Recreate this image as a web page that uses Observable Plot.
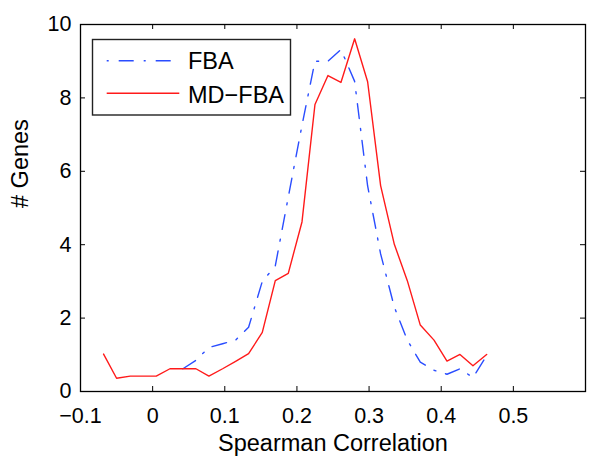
<!DOCTYPE html>
<html><head><meta charset="utf-8">
<script src="https://cdn.jsdelivr.net/npm/d3@7"></script>
<script src="https://cdn.jsdelivr.net/npm/@observablehq/plot@0.6"></script>
<style>
body{margin:0;background:#fff}
#chart{position:relative;width:600px;height:471px}
</style>
</head><body><div id="chart"></div>
<script>
// Bin centers (Spearman correlation)
const binCenters = [-0.068, -0.050, -0.031, -0.013, 0.005, 0.024, 0.042, 0.060, 0.078, 0.097,
  0.115, 0.133, 0.152, 0.170, 0.188, 0.207, 0.225, 0.243, 0.261, 0.280,
  0.298, 0.316, 0.335, 0.353, 0.371, 0.390, 0.408, 0.426, 0.444, 0.463];
// MD-FBA counts
const mdfbaValues = [1.02, 0.36, 0.42, 0.42, 0.42, 0.62, 0.62, 0.62, 0.42, 0.62,
  0.82, 1.03, 1.61, 3.02, 3.22, 4.62, 7.82, 8.61, 8.42, 9.61,
  8.44, 5.61, 4.01, 3.02, 1.81, 1.40, 0.83, 1.01, 0.70, 1.01];
// FBA counts (null = not visible / under MD-FBA)
const fbaValues = [null, null, null, null, null, null, 0.62, 0.85, 1.2, 1.3,
  1.4, 1.75, 3.0, 3.42, 5.3, 7.25, 9.0, 9.0, 9.32, 8.45,
  5.6, 3.75, 2.3, 1.4, 0.8, 0.58, 0.47, 0.62, 0.38, 0.98];
const seriesNames = ["FBA", "MD\u2212FBA"];
const xTicks = [-0.1, 0, 0.1, 0.2, 0.3, 0.4, 0.5];
const xTickLabels = ["\u22120.1", "0", "0.1", "0.2", "0.3", "0.4", "0.5"];
const yTicks = [0, 2, 4, 6, 8, 10];
const yTickLabels = ["0", "2", "4", "6", "8", "10"];
const xLabel = "Spearman Correlation";
const yLabel = "# Genes";

const blue = "#2a4dff", red = "#ff1a1a";
const dash = "15,10,2,10";
const W = 600, H = 471, mL = 80, mR = 15, mT = 24, mB = 80;
const pw = W - mL - mR, ph = H - mT - mB;
const font = '"Liberation Sans", Arial, Helvetica, sans-serif';

const mdRows = binCenters.map((x, i) => ({x, y: mdfbaValues[i]}));
const fbaRows = binCenters.map((x, i) => ({x, y: fbaValues[i]})).filter(d => d.y != null);

const chart = Plot.plot({
  width: W, height: H,
  marginLeft: mL, marginRight: mR, marginTop: mT, marginBottom: mB,
  style: {fontFamily: font, fontSize: "21px", color: "#000", background: "#fff"},
  x: {domain: [-0.1, 0.6], label: null},
  y: {domain: [0, 10], label: null},
  marks: [
    Plot.axisX({ticks: xTicks, tickSize: 0, tickPadding: 16, label: null,
      tickFormat: d => xTickLabels[xTicks.indexOf(d)], fontSize: 21.5}),
    Plot.axisY({ticks: yTicks, tickSize: 0, tickPadding: 9, label: null,
      tickFormat: d => yTickLabels[yTicks.indexOf(d)], fontSize: 21.5}),
    Plot.tickX(xTicks, {x: d => d, insetTop: ph - 5, stroke: "#000", strokeWidth: 1}),
    Plot.tickX(xTicks, {x: d => d, insetBottom: ph - 5, stroke: "#000", strokeWidth: 1}),
    Plot.tickY(yTicks, {y: d => d, insetRight: pw - 5, stroke: "#000", strokeWidth: 1}),
    Plot.tickY(yTicks, {y: d => d, insetLeft: pw - 5, stroke: "#000", strokeWidth: 1}),
    Plot.line(fbaRows, {x: "x", y: "y", stroke: blue, strokeWidth: 1.4, strokeDasharray: dash}),
    Plot.line(mdRows, {x: "x", y: "y", stroke: red, strokeWidth: 1.4}),
    Plot.frame({stroke: "#000", strokeWidth: 1.3}),
    Plot.text([xLabel], {text: d => d, frameAnchor: "bottom", lineAnchor: "bottom", dy: 59.5, fontSize: 23.5, fill: "#000"}),
    Plot.text([yLabel], {text: d => d, frameAnchor: "left", lineAnchor: "bottom", rotate: -90, dx: -53, fontSize: 23.5, fill: "#000"})
  ]
});
document.getElementById("chart").appendChild(chart);

// Legend box
const svg = d3.select(chart);
const lg = svg.append("g").attr("font-family", font).attr("font-size", 23.5).attr("text-anchor", "start");
lg.append("rect").attr("x", 92.5).attr("y", 39.5).attr("width", 198).attr("height", 75.5)
  .attr("fill", "#fff").attr("stroke", "#222").attr("stroke-width", 1.4);
const legendItems = [
  {name: seriesNames[0], stroke: blue, dash: "2,10,15,10", cy: 60.7, base: 68.5},
  {name: seriesNames[1], stroke: red, dash: null, cy: 93.3, base: 102.5}
];
legendItems.forEach(it => {
  const l = lg.append("line").attr("x1", 106.7).attr("x2", 179.3).attr("y1", it.cy).attr("y2", it.cy)
    .attr("stroke", it.stroke).attr("stroke-width", 1.4);
  if (it.dash) l.attr("stroke-dasharray", it.dash);
  lg.append("text").attr("x", 188).attr("y", it.base).attr("fill", "#000")
    .attr("text-anchor", "start").text(it.name);
});
</script>
</body></html>
